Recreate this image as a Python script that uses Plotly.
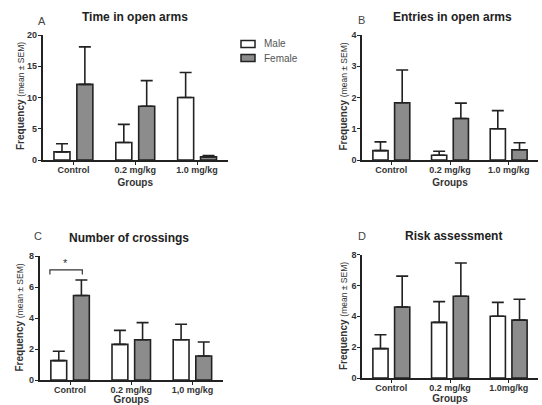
import plotly.graph_objects as go

groups_top = ["Control", "0.2 mg/kg", "1.0 mg/kg"]
groups_c = ["Control", "0.2 mg/kg", "1,0 mg/kg"]
groups_d = ["Control", "0.2 mg/kg", "1.0mg/kg"]
series_names = ["Male", "Female"]

# Panel A: Time in open arms
a_male = [1.3, 2.8, 10.0]
a_male_top = [2.6, 5.7, 14.0]
a_female = [12.1, 8.6, 0.5]
a_female_top = [18.1, 12.7, 0.7]

# Panel B: Entries in open arms
b_male = [0.3, 0.15, 1.0]
b_male_top = [0.58, 0.28, 1.58]
b_female = [1.83, 1.33, 0.33]
b_female_top = [2.88, 1.82, 0.55]

# Panel C: Number of crossings
c_male = [1.25, 2.3, 2.6]
c_male_top = [1.85, 3.2, 3.6]
c_female = [5.45, 2.6, 1.55]
c_female_top = [6.45, 3.7, 2.45]

# Panel D: Risk assessment
d_male = [1.9, 3.6, 4.0]
d_male_top = [2.8, 4.95, 4.9]
d_female = [4.6, 5.3, 3.75]
d_female_top = [6.6, 7.45, 5.1]

COLORS = {"Male": "white", "Female": "#8c8c8c"}

panels = [
    ("x", "y", groups_top, a_male, a_male_top, a_female, a_female_top),
    ("x2", "y2", groups_top, b_male, b_male_top, b_female, b_female_top),
    ("x3", "y3", groups_c, c_male, c_male_top, c_female, c_female_top),
    ("x4", "y4", groups_d, d_male, d_male_top, d_female, d_female_top),
]

fig = go.Figure()
for xa, ya, cats, m, mt, f, ft in panels:
    for name, vals, tops in [("Male", m, mt), ("Female", f, ft)]:
        fig.add_trace(go.Bar(
            x=cats, y=vals, name=name, xaxis=xa, yaxis=ya, showlegend=False,
            marker=dict(color=COLORS[name], line=dict(color="#222", width=1.6)),
            error_y=dict(type="data", symmetric=False,
                         array=[t - v for t, v in zip(tops, vals)],
                         arrayminus=[0] * len(vals),
                         color="#222", thickness=1.6, width=6),
        ))

FONT = "Liberation Sans, Arial, sans-serif"

def xax(domain, anchor, standoff):
    return dict(domain=domain, anchor=anchor, showline=True, linecolor="#222", linewidth=1.6,
                ticks="outside", ticklen=3, tickwidth=1.2, tickcolor="#222",
                ticklabelstandoff=-3,
                showgrid=False, zeroline=False, automargin=False,
                tickfont=dict(size=9, family=FONT, color="#333", weight="bold"),
                title=dict(text="Groups", font=dict(size=10, family=FONT, color="#333", weight="bold"),
                           standoff=standoff))

def yax(domain, anchor, rng, dtick):
    return dict(domain=domain, anchor=anchor, range=rng, dtick=dtick, showline=True,
                linecolor="#222", linewidth=1.6, ticks="outside", ticklen=3, tickwidth=1.4,
                tickcolor="#222", showgrid=False, zeroline=False, automargin=False,
                ticklabelstandoff=-1,
                tickfont=dict(size=9, family=FONT, color="#333", weight="bold"))

W, H = 542, 405
def fx(p): return p / W
def fy(p): return 1 - p / H

fig.update_layout(
    width=W, height=H, margin=dict(l=0, r=0, t=0, b=0, autoexpand=False),
    paper_bgcolor="white", plot_bgcolor="white",
    barmode="group", bargap=0.26, bargroupgap=0.3,
    xaxis=xax([fx(42.5), fx(228)], "y", 5),
    yaxis=yax([fy(160), fy(35)], "x", [0, 20], 5),
    xaxis2=xax([fx(362), fx(538)], "y2", 5),
    yaxis2=yax([fy(160), fy(35)], "x2", [0, 4], 1),
    xaxis3=xax([fx(39.5), fx(223)], "y3", 1),
    yaxis3=yax([fy(380), fy(256)], "x3", [0, 8], 2),
    xaxis4=xax([fx(362), fx(538)], "y4", 1),
    yaxis4=yax([fy(378), fy(254.5)], "x4", [0, 8], 2),
    showlegend=False,
)

annots = [
    ("Time in open arms", 135, 17, 12, True),
    ("A", 42, 21, 11, False),
    ("Entries in open arms", 452, 17, 12, True),
    ("B", 361, 20, 11, False),
    ("Number of crossings", 129, 238, 12, True),
    ("C", 38, 236, 11, False),
    ("Risk assessment", 453, 236, 12, True),
    ("D", 362, 236, 11, False),
]
for text, x, y, size, bold in annots:
    fig.add_annotation(text=text, x=fx(x), y=fy(y), xref="paper", yref="paper",
                       showarrow=False, xanchor="center", yanchor="middle",
                       font=dict(size=size, family=FONT, color="#222" if bold else "#444",
                                 weight="bold" if bold else "normal"))

# y-axis titles
ytitle_text = "Frequency <span style='font-size:8.5px;font-weight:normal'>(mean ± SEM)</span>"
for x, y in [(20.5, 96.5), (343, 96.5), (18.5, 318), (343, 316)]:
    fig.add_annotation(text=ytitle_text, x=fx(x), y=fy(y), xref="paper", yref="paper",
                       showarrow=False, textangle=-90, xanchor="center", yanchor="middle",
                       font=dict(size=10, family=FONT, color="#333", weight="bold"))

# legend (drawn manually to match compact spacing)
for i, name in enumerate(series_names):
    yc = 44 + 14 * i
    fig.add_shape(type="rect", xref="paper", yref="paper",
                  x0=fx(241), x1=fx(255), y0=fy(yc + 3.5), y1=fy(yc - 3.5),
                  fillcolor=COLORS[name], line=dict(color="#222", width=1.5))
    fig.add_annotation(text=name, x=fx(262), y=fy(yc), xref="paper", yref="paper",
                       showarrow=False, xanchor="left", yanchor="middle",
                       font=dict(size=10, family=FONT, color="#555"))

# significance bracket in panel C
fig.add_shape(type="path", xref="x3", yref="y3",
              path="M -0.33,6.8 L -0.33,7.1 L 0.2,7.1 L 0.2,6.8",
              line=dict(color="#333", width=1.2))
fig.add_annotation(text="*", x=-0.07, y=7.55, xref="x3", yref="y3", showarrow=False,
                   font=dict(size=11, family=FONT, color="#333"))

fig.write_html("out.html", config={"displayModeBar": False},
               post_script="document.body.style.margin='0';document.body.style.overflow='hidden';")
